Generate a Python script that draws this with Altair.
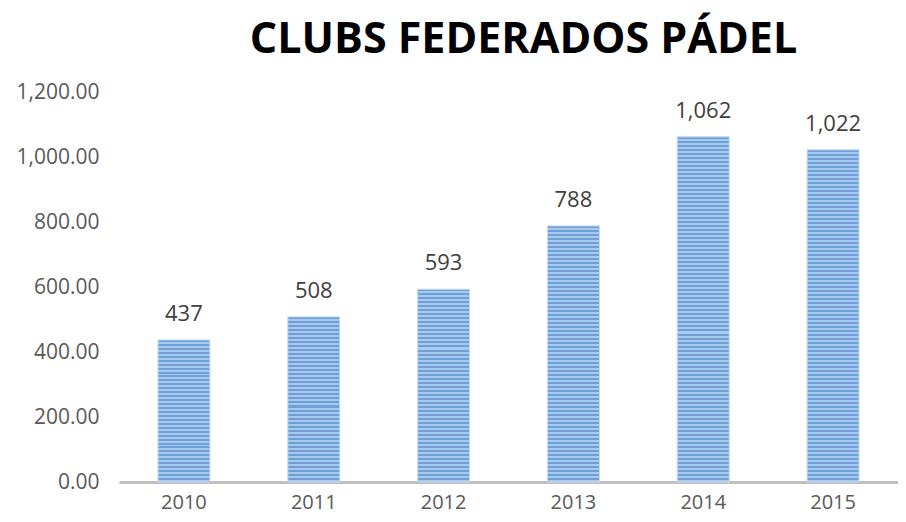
import altair as alt
import pandas as pd

years = ["2010", "2011", "2012", "2013", "2014", "2015"]
clubs = [437, 508, 593, 788, 1062, 1022]
labels = ["437", "508", "593", "788", "1,062", "1,022"]
y_ticks = [0, 200, 400, 600, 800, 1000, 1200]

df = pd.DataFrame({"year": years, "clubs": clubs, "label": labels})

W, H = 779, 390
YMAX = 1200
DARK = "#6d9fd8"
LIGHT = "#a8c8ec"
FONT = "Open Sans"


def stripes(value):
    px = value / YMAX * H
    n = max(1, round(px / 4))
    stops = []
    for i in range(n):
        a = i / n
        m = (i + 0.5) / n
        b = (i + 1) / n
        stops += [
            {"offset": a, "color": DARK},
            {"offset": m, "color": DARK},
            {"offset": m, "color": LIGHT},
            {"offset": b, "color": LIGHT},
        ]
    return {"gradient": "linear", "x1": 0, "y1": 0, "x2": 0, "y2": 1, "stops": stops}


x_enc = alt.X(
    "year:N",
    sort=years,
    scale=alt.Scale(paddingInner=0.6, paddingOuter=0.3),
    axis=alt.Axis(
        title=None,
        labelAngle=0,
        ticks=False,
        domainColor="#bfbfbf",
        domainWidth=3,
        labelColor="#595959",
        labelFontSize=20,
        labelFont=FONT,
        labelPadding=10,
        grid=False,
    ),
)
y_enc = alt.Y(
    "clubs:Q",
    scale=alt.Scale(domain=[0, YMAX], nice=False),
    axis=alt.Axis(
        title=None,
        values=y_ticks,
        format=",.2f",
        domain=False,
        ticks=False,
        grid=False,
        labelColor="#595959",
        labelFontSize=21,
        labelFont=FONT,
        labelPadding=20,
    ),
)

base = alt.Chart(df)
layers = []
for yr, v in zip(years, clubs):
    layers.append(
        base.transform_filter(alt.datum.year == yr)
        .mark_bar(color=stripes(v), stroke="#c2d9f2", strokeWidth=1)
        .encode(x=x_enc, y=y_enc)
    )

text = base.mark_text(
    baseline="bottom", dy=-14, fontSize=22, font=FONT, color="#404040"
).encode(x=x_enc, y=y_enc, text="label:N")

chart = (
    alt.layer(*layers, text)
    .properties(
        width=W,
        height=H,
        padding={"left": 111, "top": 84, "right": 0, "bottom": 32},
        autosize=alt.AutoSizeParams(type="none"),
        title=alt.TitleParams(
            "CLUBS FEDERADOS PÁDEL",
            font=FONT,
            fontSize=43,
            fontWeight="bold",
            color="#000000",
            anchor="middle",
            offset=19,
            dx=15,
            limit=0,
        ),
    )
    .configure_view(stroke=None)
)

chart.save("out.html", embed_options={"renderer": "svg", "actions": False})
